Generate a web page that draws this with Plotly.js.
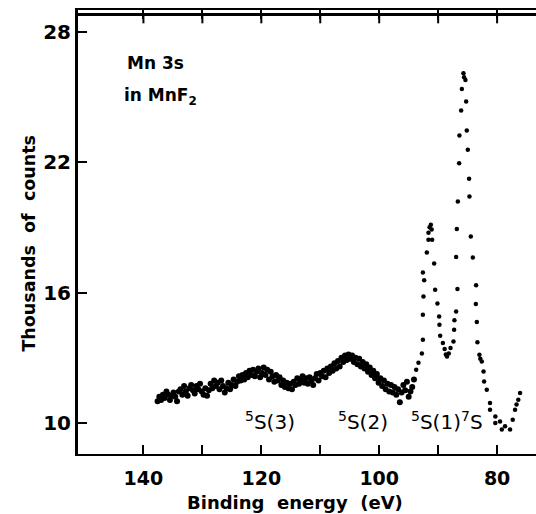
<!DOCTYPE html>
<html>
<head>
<meta charset="utf-8">
<script src="https://cdn.plot.ly/plotly-3.0.1.min.js"></script>
<style>html,body{margin:0;padding:0;background:#fff;overflow:hidden;}</style>
</head>
<body>
<div id="chart" style="width:536px;height:514px;"></div>
<script>
// Background (satellite region) binding energies (eV) and counts (thousands)
var bgEnergy = [137.6,137.3,137.0,136.7,136.4,136.1,135.8,135.5,135.2,134.9,134.6,134.3,134.0,133.7,133.4,133.1,132.8,132.5,132.2,131.9,131.6,131.3,131.0,130.7,130.4,130.1,129.8,129.5,129.2,128.9,128.6,128.3,128.0,127.7,127.4,127.1,126.8,126.5,126.2,125.9,125.6,125.3,125.0,124.7,124.4,124.1,123.8,123.5,123.2,122.9,122.6,122.3,122.0,121.7,121.4,121.1,120.8,120.5,120.2,119.9,119.6,119.3,119.0,118.7,118.4,118.1,117.8,117.5,117.2,116.9,116.6,116.3,116.0,115.7,115.4,115.1,114.8,114.5,114.2,113.9,113.6,113.3,113.0,112.7,112.4,112.1,111.8,111.5,111.2,110.9,110.6,110.3,110.0,109.7,109.4,109.1,108.8,108.5,108.2,107.9,107.6,107.3,107.0,106.7,106.4,106.1,105.8,105.5,105.2,104.9,104.6,104.3,104.0,103.7,103.4,103.1,102.8,102.5,102.2,101.9,101.6,101.3,101.0,100.7,100.4,100.1,99.8,99.5,99.2,98.9,98.6,98.3,98.0,97.7,97.4,97.1,96.8,96.5,96.2,95.9,95.6,95.3,95.0,94.7,94.4,94.1];
var bgCounts = [11.0,11.2,11.05,11.3,11.15,11.45,11.3,11.05,11.25,11.4,11.2,11.0,11.45,11.55,11.3,11.7,11.45,11.25,11.6,11.75,11.5,11.35,11.7,11.55,11.8,11.45,11.3,11.6,11.25,11.5,11.8,11.6,11.95,11.7,11.85,11.55,11.95,11.7,11.4,11.6,11.85,11.55,11.75,12.0,11.7,11.9,12.15,11.95,12.2,12.0,12.3,12.1,12.4,12.2,12.45,12.15,12.35,12.5,12.1,12.3,12.55,12.2,12.45,12.0,12.35,12.15,11.9,12.2,11.95,12.1,11.75,11.95,11.65,11.85,11.6,11.8,11.55,11.9,11.75,12.05,11.8,12.0,12.15,11.85,12.05,11.8,12.1,11.95,11.75,12.05,12.25,11.95,12.3,12.15,12.4,12.1,12.5,12.3,12.6,12.4,12.75,12.5,12.85,12.6,13.0,12.8,13.1,12.9,13.15,12.95,13.1,12.8,13.0,12.7,12.95,12.6,12.8,12.5,12.7,12.35,12.55,12.2,12.4,12.05,12.25,11.85,12.05,11.7,11.95,11.55,11.8,11.45,11.75,11.4,11.65,11.3,11.55,10.95,11.4,11.75,11.5,11.9,11.2,11.45,11.65,12.0];

// Main-line region: 5S(1) and 7S peaks
var peakEnergy = [93.73,93.34,92.76,92.59,92.59,92.49,92.37,92.59,91.92,91.64,91.64,91.45,91.24,91.1,91.02,90.68,90.51,90.12,89.83,89.78,89.66,89.2,88.9,88.7,88.5,88.2,87.9,87.4,87.29,87.24,86.95,86.73,86.95,86.83,86.66,86.44,86.39,86.10,85.98,85.71,85.6,85.37,85.25,85.14,84.97,84.75,84.69,84.46,84.12,83.56,83.61,83.44,83.34,83.00,82.85,82.6,82.3,82.2,81.75,81.2,81.2,80.3,80.3,79.5,79.2,78.65,77.8,77.35,76.95,76.7,76.4,76.1];
var peakCounts = [12.45,12.77,13.19,13.83,14.98,15.82,16.56,16.92,17.84,18.43,18.75,19.0,19.12,18.9,18.43,17.33,16.13,15.49,14.90,14.52,14.01,13.68,13.4,13.15,13.06,13.2,13.45,13.75,14.29,14.72,15.13,16.16,17.63,18.92,20.19,21.95,23.22,24.37,25.36,26.09,25.9,25.78,24.79,23.45,22.57,21.23,20.42,18.58,17.61,16.34,15.47,14.64,13.71,13.14,12.95,12.83,12.37,11.91,11.53,10.92,10.61,10.3,10.0,10.07,9.7,9.85,9.7,10.15,10.61,10.85,11.07,11.38];

var yTicks = [10,16,22,28];
var xTicks = [140,130,120,110,100,90,80];
var xTickText = ['140','','120','','100','','80'];

var fontFam = 'DejaVu Sans, Liberation Sans, sans-serif';
var xRange = [151.1, 73.4];

var traces = [
  {x: bgEnergy, y: bgCounts, type: 'scatter', mode: 'markers',
   marker: {color: '#000', size: 6, symbol: 'circle'}, hoverinfo: 'skip'},
  {x: peakEnergy, y: peakCounts, type: 'scatter', mode: 'markers',
   marker: {color: '#000', size: 4.5, symbol: 'circle'}, hoverinfo: 'skip'}
];

// top frame: line across the plot top with short inward ticks
var shapes = [{type: 'line', xref: 'paper', yref: 'paper', x0: 0, x1: 1, y0: 0.99, y1: 0.99,
               line: {color: '#000', width: 3}, layer: 'above'}];
xTicks.forEach(function (v) {
  shapes.push({type: 'line', xref: 'x', yref: 'paper', x0: v, x1: v, y0: 0.99, y1: 0.97,
               line: {color: '#000', width: 2}, layer: 'above'});
});

var annFont = {family: fontFam, size: 17, color: '#000', weight: 'bold'};
var lblFont = {family: fontFam, size: 20, color: '#000'};
var titleFont = {family: fontFam, size: 18, color: '#000', weight: 'bold'};
var layout = {
  width: 536, height: 514, autosize: false,
  margin: {l: 78, r: 0, t: 10, b: 60, pad: 0},
  paper_bgcolor: '#fff', plot_bgcolor: '#fff',
  showlegend: false,
  font: {family: fontFam, color: '#000'},
  xaxis: {
    range: xRange, tickvals: xTicks, ticktext: xTickText,
    ticks: 'inside', ticklen: 9, tickwidth: 2, tickcolor: '#000',
    showline: true, linewidth: 2, linecolor: '#000', mirror: 'ticks',
    showgrid: false, zeroline: false,
    tickfont: {family: fontFam, size: 19, color: '#000', weight: 'bold'},
    ticklabelstandoff: 6,
    title: {text: ''}
  },
  yaxis: {
    range: [8.57, 29.0], tickvals: yTicks,
    ticks: 'inside', ticklen: 9, tickwidth: 2, tickcolor: '#000',
    showline: true, linewidth: 3, linecolor: '#000', mirror: false,
    showgrid: false, zeroline: false,
    tickfont: {family: fontFam, size: 20, color: '#000', weight: 'bold'},
    ticklabelstandoff: 0,
    title: {text: ''}
  },
  shapes: shapes,
  annotations: [
    {x: 0.474, y: -0.11, xref: 'paper', yref: 'paper', text: 'Binding\u00a0\u00a0energy\u00a0\u00a0(eV)', showarrow: false, xanchor: 'center', yanchor: 'middle', font: titleFont},
    {x: -0.109, y: 0.474, xref: 'paper', yref: 'paper', text: 'Thousands\u00a0\u00a0of\u00a0\u00a0counts', textangle: -90, showarrow: false, xanchor: 'center', yanchor: 'middle', font: {family: fontFam, size: 17.5, color: '#000', weight: 'bold'}},
    {x: 143.05, y: 26.57, xref: 'x', yref: 'y', text: 'Mn 3s', showarrow: false, xanchor: 'left', yanchor: 'middle', font: annFont},
    {x: 143.56, y: 25.0, xref: 'x', yref: 'y', text: 'in MnF<sub>2</sub>', showarrow: false, xanchor: 'left', yanchor: 'middle', font: annFont},
    {x: 118.6, y: 10.1, xref: 'x', yref: 'y', text: '<sup>5</sup>S(3)', showarrow: false, xanchor: 'center', yanchor: 'middle', font: lblFont},
    {x: 102.8, y: 10.1, xref: 'x', yref: 'y', text: '<sup>5</sup>S(2)', showarrow: false, xanchor: 'center', yanchor: 'middle', font: lblFont},
    {x: 88.5, y: 10.1, xref: 'x', yref: 'y', text: '<sup>5</sup>S(1)<sup>7</sup>S', showarrow: false, xanchor: 'center', yanchor: 'middle', font: lblFont}
  ]
};

Plotly.newPlot('chart', traces, layout, {staticPlot: true, displayModeBar: false});
</script>
</body>
</html>
